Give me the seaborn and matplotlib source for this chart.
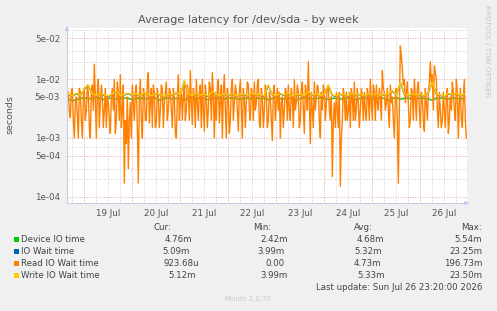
import numpy as np
import pandas as pd
import matplotlib
matplotlib.use("Agg")
import matplotlib.pyplot as plt
import seaborn as sns
from matplotlib.ticker import FixedLocator, FixedFormatter, FuncFormatter
from matplotlib.patches import Rectangle

# ---------------- data ----------------
title = "Average latency for /dev/sda - by week"
day_labels = ["19 Jul", "20 Jul", "21 Jul", "22 Jul", "23 Jul", "24 Jul", "25 Jul", "26 Jul"]
y_major_vals = [1e-4, 5e-4, 1e-3, 5e-3, 1e-2, 5e-2]
y_major_labels = ["1e-04", "5e-04", "1e-03", "5e-03", "1e-02", "5e-02"]

start_hour = -8  # hours relative to 19 Jul 00:00

# Read IO wait time, samples on the hour (ms)
read_ms = [
    6, 2.2, 7, 1.0, 5, 1.0, 6, 1.0,
    7, 3, 6, 1.0, 8, 18, 1.0, 10, 4, 5, 3, 1.5, 4, 1.2, 7, 10, 2, 6, 12, 3, 0.17, 0.8, 0.3, 4,
    8, 2, 8, 0.17, 10, 1.0, 6, 2, 13, 4, 1.5, 6, 1.8, 5, 3, 7, 4, 9, 3, 6, 1.5, 5, 1.0, 12,
    4, 2, 9, 3, 6, 14, 1.7, 5, 10, 2, 8, 10, 1.3, 5, 3, 7, 13, 1.0, 2, 10, 4, 1.0, 12, 1.0,
    5, 2, 10, 4, 6, 1.3, 10, 1.0, 5, 4, 8, 2, 6, 9, 4, 10, 1.5, 5, 3, 6, 2, 5, 0.9, 8,
    4, 3, 1.0, 5, 3, 6, 8, 2, 5, 10, 4, 6, 2, 9, 1.2, 6, 20, 0.8, 3, 9, 5, 7, 1.0, 3,
    6, 4, 8, 2, 0.22, 4, 6, 1.5, 0.15, 2, 5, 6, 3, 1.5, 5, 9, 3, 4, 3, 5, 6, 2, 5, 10,
    2, 6, 8, 3, 5, 14, 6, 4, 3, 8, 5, 1.0, 7, 0.17, 37, 15, 10, 6, 4, 2, 6, 10, 2, 9,
    1.5, 5, 1.3, 4, 6, 20, 12, 17, 10, 1.5, 3, 2, 3, 5, 1.2, 5, 9, 3, 10, 1.0, 7, 1.5, 10, 1.0,
]

# Read IO wait time, samples on the half hour (ms), starting at start_hour + 0.5
read_half_ms = [
    3, 6, 2, 4, 2.5, 7, 2, 5,
    2, 8, 1.5, 6, 3, 5, 6, 1.5, 8, 1.5, 7, 5, 2, 5, 3, 1.2, 9, 2, 1.5, 8, 2, 5, 2, 1.0,
    4, 6, 1.5, 5, 2, 7, 2, 9, 1.8, 7, 8, 1.5, 7, 1.5, 8, 1.5, 6, 2, 7, 3, 7, 1.2, 5, 2,
    7, 5, 2, 8, 2, 4, 7, 1.5, 4, 6, 1.5, 3, 8, 1.5, 9, 2, 5, 6, 7, 1.8, 8, 6, 3, 7,
    1.2, 7, 2, 8, 3, 6, 3, 7, 1.5, 9, 3, 7, 2, 3, 8, 1.8, 7, 1.5, 8, 1.5, 6, 2, 6, 2,
    7, 6, 4, 1.5, 7, 2, 3, 7, 1.5, 3, 8, 1.5, 7, 3, 8, 3, 4, 6, 1.5, 3, 8, 2, 6, 8,
    2, 7, 3, 5, 2, 1.5, 3, 6, 1.0, 7, 2, 2, 6, 7, 2, 2, 7, 1.5, 7, 2, 3, 7, 2, 4,
    8, 2, 4, 7, 2, 7, 3, 7, 1.5, 4, 2, 5, 2, 3, 25, 8, 4, 9, 1.5, 7, 2, 5, 7, 3,
    6, 2, 7, 2, 9, 8, 3, 13, 3, 6, 1.5, 6, 1.5, 7, 2, 3, 6, 2, 6, 4, 2, 5, 2,
]

# Device IO time, 2-hourly samples (ms)
device_ms = [
    4.6, 4.3, 4.5, 4.7,
    4.8, 4.7, 4.6, 4.8, 4.7, 4.5, 4.7, 4.8, 4.6, 4.7, 4.8, 4.7,
    4.5, 4.7, 4.8, 4.6, 4.7, 4.8, 4.7, 4.4, 4.7, 4.8, 4.6, 4.7,
    4.7, 4.4, 4.8, 4.7, 4.6, 4.8, 4.7, 4.5, 4.7, 4.8, 4.7, 4.6,
    4.8, 4.7, 4.7, 4.5, 4.8, 4.7, 4.6, 4.7, 4.8, 4.7, 4.5, 4.7,
    4.8, 4.7, 4.6, 4.7, 4.8, 4.4, 4.7, 4.8, 4.7, 4.6, 4.7, 4.8,
    4.7, 4.5, 4.7, 4.8, 4.6, 4.7, 4.8, 4.7, 4.5, 4.7, 4.8, 4.7,
    4.6, 4.7, 4.8, 4.7, 4.4, 4.7, 4.8, 4.6, 4.7, 4.8, 4.5, 4.7,
    4.8, 4.7, 4.6, 4.4, 4.7, 4.8, 4.7, 4.6, 4.8, 4.7, 4.7, 4.6,
]

# IO Wait time, 2-hourly samples (ms)
iowait_ms = [
    5.5, 5.1, 5.7, 5.2,
    6.8, 7.8, 5.5, 5.2, 5.8, 5.3, 5.1, 5.6, 6.1, 5.2, 5.4, 5.7,
    5.3, 5.6, 5.1, 5.9, 5.3, 5.2, 5.7, 5.4, 5.0, 5.5, 5.3, 5.8,
    5.4, 9.3, 5.5, 5.2, 5.7, 5.3, 5.5, 5.1, 6.0, 5.4, 5.2, 5.6,
    5.3, 5.7, 5.1, 5.5, 5.4, 5.2, 5.8, 5.3, 5.5, 5.1, 7.8, 5.4,
    5.2, 5.6, 5.3, 5.8, 5.1, 5.5, 5.4, 5.2, 6.0, 5.3, 5.5, 5.2,
    5.6, 7.8, 5.3, 5.1, 5.5, 5.4, 5.2, 5.7, 5.3, 5.5, 5.1, 5.6,
    5.3, 5.7, 5.2, 5.5, 5.4, 6.3, 5.3, 8.8, 5.5, 5.2, 5.6, 5.3,
    5.4, 5.2, 5.9, 8.8, 5.5, 5.3, 5.1, 5.6, 5.4, 5.7, 5.2, 5.5,
]

# Write IO wait time, 2-hourly samples (ms)
write_ms = [
    5.6, 5.2, 5.8, 5.3,
    7.0, 8.0, 5.6, 5.3, 5.9, 5.4, 5.2, 5.7, 6.3, 5.3, 5.5, 5.8,
    5.4, 5.7, 5.2, 6.0, 5.4, 5.3, 5.8, 5.5, 5.1, 5.6, 5.4, 5.9,
    5.5, 9.5, 5.6, 5.3, 5.8, 5.4, 5.6, 5.2, 6.2, 5.5, 5.3, 5.7,
    5.4, 5.8, 5.2, 5.6, 5.5, 5.3, 5.9, 5.4, 5.6, 5.2, 8.0, 5.5,
    5.3, 5.7, 5.4, 5.9, 5.2, 5.6, 5.5, 5.3, 6.2, 5.4, 5.6, 5.3,
    5.7, 8.0, 5.4, 5.2, 5.6, 5.5, 5.3, 5.8, 5.4, 5.6, 5.2, 5.7,
    5.4, 5.8, 5.3, 5.6, 5.5, 6.5, 5.4, 9.0, 5.6, 5.3, 5.7, 5.4,
    5.5, 5.3, 6.0, 9.0, 5.6, 5.4, 5.2, 5.7, 5.5, 5.8, 5.3, 5.6,
]

series_names = ["Device IO time", "IO Wait time", "Read IO Wait time", "Write IO Wait time"]
series_colors = ["#00CC00", "#0066B3", "#FF8000", "#FFCC00"]
cur_vals = ["4.76m", "5.09m", "923.68u", "5.12m"]
min_vals = ["2.42m", "3.99m", "0.00", "3.99m"]
avg_vals = ["4.68m", "5.32m", "4.73m", "5.33m"]
max_vals = ["5.54m", "23.25m", "196.73m", "23.50m"]
last_update = "Last update: Sun Jul 26 23:20:00 2026"

# ---------------- build frames ----------------
h_read = start_hour + np.arange(len(read_ms))
h_half = start_hour + 0.5 + np.arange(len(read_half_ms))
read_df = pd.DataFrame({
    "hour": np.concatenate([h_read, h_half]),
    "sec": np.concatenate([read_ms, read_half_ms]) / 1000,
}).sort_values("hour")
h_2 = start_hour + 2 * np.arange(len(device_ms))
frames = {
    series_names[0]: pd.DataFrame({"hour": h_2, "sec": np.array(device_ms) / 1000}),
    series_names[1]: pd.DataFrame({"hour": h_2, "sec": np.array(iowait_ms) / 1000}),
    series_names[2]: read_df,
    series_names[3]: pd.DataFrame({"hour": h_2, "sec": np.array(write_ms) / 1000}),
}

# ---------------- figure ----------------
W, H = 497, 311
fig = plt.figure(figsize=(W / 100, H / 100), dpi=100)
fig.patch.set_facecolor("#F0F0F0")
ax = fig.add_axes([67 / W, 1 - 203 / H, 400 / W, 175 / H])
ax.set_facecolor("white")

lws = [1.0, 1.0, 1.0, 1.0]
for name, col, lw in zip(series_names, series_colors, lws):
    sns.lineplot(data=frames[name], x="hour", y="sec", color=col, linewidth=lw, ax=ax,
                 legend=False, errorbar=None, sort=True)

ax.set_yscale("log")
ax.set_ylim(7.8e-5, 0.0748)
ax.set_xlim(-8.67, 191.33)
ax.set_xlabel("")
ax.set_ylabel("")

# y grid
ax.yaxis.set_major_locator(FixedLocator(y_major_vals))
ax.yaxis.set_major_formatter(FixedFormatter(y_major_labels))
minor_y = [m * 10.0 ** e for e in range(-5, 0) for m in (2, 3, 7)]
ax.yaxis.set_minor_locator(FixedLocator(minor_y))
ax.yaxis.set_minor_formatter(FuncFormatter(lambda v, p: ""))

# x grid: major at midnight (red), minor every 6h, labels at noon
ax.xaxis.set_major_locator(FixedLocator([24 * k for k in range(0, 9)]))
ax.xaxis.set_major_formatter(FuncFormatter(lambda v, p: ""))
ax.xaxis.set_minor_locator(FixedLocator([6 * k for k in range(-1, 33) if k % 4 != 0]))


def xlab(v, p):
    k = int(round(v))
    if k % 24 == 12 and 0 <= (k - 12) // 24 < len(day_labels):
        return day_labels[(k - 12) // 24]
    return ""


ax.xaxis.set_minor_formatter(FuncFormatter(xlab))

grid_kw = dict(linestyle=(0, (1, 1.5)), linewidth=0.7)
ax.grid(True, which="minor", color="#D2D2D2", **grid_kw)
ax.grid(True, which="major", color="#E6A8A8", **grid_kw)
ax.set_axisbelow(True)

ax.tick_params(axis="both", which="both", length=0, colors="#555555", labelsize=6.3)
ax.tick_params(axis="y", which="major", pad=5)
ax.tick_params(axis="x", which="both", pad=4.5)

for s in ["top", "right"]:
    ax.spines[s].set_visible(False)
for s in ["left", "bottom"]:
    ax.spines[s].set_color("#CCCCE0")
    ax.spines[s].set_linewidth(0.8)

# axis arrows
ax.annotate("", xy=(0, 1.025), xytext=(0, 0.99), xycoords="axes fraction",
            arrowprops=dict(arrowstyle="-|>", color="#C0C8F0", lw=0.6, mutation_scale=6),
            annotation_clip=False)
ax.annotate("", xy=(1.012, 0), xytext=(0.99, 0), xycoords="axes fraction",
            arrowprops=dict(arrowstyle="-|>", color="#C0C8F0", lw=0.6, mutation_scale=6),
            annotation_clip=False)


def P(x, y):
    return (x / W, 1 - y / H)


fig.text(*P(248, 20), title, ha="center", va="center", fontsize=8.1, color="#555555")
fig.text(*P(10, 115), "seconds", ha="center", va="center", rotation=90, fontsize=6.8,
         color="#555555")
fig.text(*P(487, 51), "RRDTOOL / TOBI OETIKER", ha="center", va="center", rotation=270,
         fontsize=5.1, color="#C4C4C4")

# legend table
fs = 6.2
tc = "#444444"
row_y = [239, 251.5, 263.5, 275]
fig.text(*P(153, 227), "Cur:", ha="left", va="center", fontsize=fs, color=tc)
fig.text(*P(253, 227), "Min:", ha="left", va="center", fontsize=fs, color=tc)
fig.text(*P(354, 227), "Avg:", ha="left", va="center", fontsize=fs, color=tc)
fig.text(*P(482, 227), "Max:", ha="right", va="center", fontsize=fs, color=tc)
cur_x = [165, 162, 164, 168]
min_x = [260, 257, 265, 260]
avg_x = [357, 354, 354, 357]
for i, (name, col) in enumerate(zip(series_names, series_colors)):
    y = row_y[i]
    fig.patches.append(Rectangle(P(14, y + 2.5), 5 / W, 5 / H, transform=fig.transFigure,
                                 facecolor=col, edgecolor="none"))
    fig.text(*P(21, y), name, ha="left", va="center", fontsize=fs, color=tc)
    fig.text(*P(cur_x[i], y), cur_vals[i], ha="left", va="center", fontsize=fs, color=tc)
    fig.text(*P(min_x[i], y), min_vals[i], ha="left", va="center", fontsize=fs, color=tc)
    fig.text(*P(avg_x[i], y), avg_vals[i], ha="left", va="center", fontsize=fs, color=tc)
    fig.text(*P(482, y), max_vals[i], ha="right", va="center", fontsize=fs, color=tc)

fig.text(*P(482, 288), last_update, ha="right", va="center", fontsize=fs, color=tc)
fig.text(*P(248, 299), "Munin 2.0.76", ha="center", va="center", fontsize=5.0, color="#C8C8C8")

fig.savefig("out.png", dpi=100, facecolor=fig.get_facecolor())
